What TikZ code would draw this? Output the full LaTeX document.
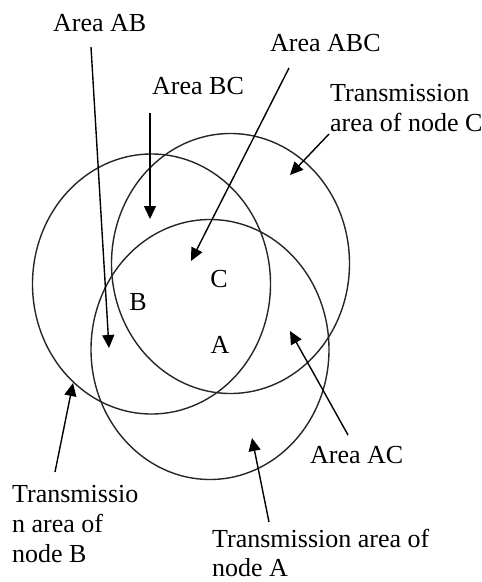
\documentclass[tikz,border=0pt]{standalone}
\usepackage{fontspec}
\setmainfont{Liberation Serif}
\usetikzlibrary{arrows.meta,shapes.geometric}
\begin{document}
\begin{tikzpicture}[x=1pt,y=-1pt,
  area/.style={draw=black!85, line width=1.4pt, ellipse, minimum width=238pt, minimum height=260pt, inner sep=0pt},
  lbl/.style={font=\fontsize{26}{30}\selectfont, inner sep=0pt},
  multi/.style={font=\fontsize{26}{30}\selectfont, inner sep=0pt, align=left, anchor=north west},
  letter/.style={font=\fontsize{26}{30}\selectfont, inner sep=0pt},
  ptr/.style={draw=black, line width=1.4pt, -{Triangle[length=13pt,width=12pt]}}]
\fill[white] (0,0) rectangle (482,582);
\useasboundingbox (0,0) rectangle (482,582);

% transmission areas
\node[area] (rangeB) at (151.5,284) {};
\node[area] (rangeC) at (230.5,263.5) {};
\node[area] (rangeA) at (210,349.5) {};

% node letters
\node[letter] (nC) at (219,279) {C};
\node[letter] (nB) at (138,302) {B};
\node[letter] (nA) at (220,345) {A};

% labels
\node[lbl, anchor=base west] (lAB) at (53,31) {Area AB};
\node[lbl, anchor=base west] (lBC) at (152,94) {Area BC};
\node[lbl, anchor=base west] (lABC) at (270,51) {Area ABC};
\node[multi] (lC) at (330,84) {Transmission\\area of node C};
\node[lbl, anchor=base west] (lAC) at (310,463) {Area AC};
\node[multi, font=\fontsize{26}{29}\selectfont] (lA) at (212,529) {Transmission area of\\node A};
\node[multi] (lB) at (12,485) {Transmissio\\n area of\\node B};

% arrow ends
\coordinate (sAB) at (91,47);   \coordinate (tAB) at (109,348);
\coordinate (sBC) at (150,113); \coordinate (tBC) at (150,219);
\coordinate (sABC) at (289,68); \coordinate (tABC) at (191,261);
\coordinate (sC) at (329,134);  \coordinate (tC) at (290,175);
\coordinate (sAC) at (348,435); \coordinate (tAC) at (290,331);
\coordinate (sA) at (269,522);  \coordinate (tA) at (252,438);
\coordinate (sB) at (55,472);   \coordinate (tB) at (73,383);

\draw[ptr] (sAB) -- (tAB);
\draw[ptr] (sBC) -- (tBC);
\draw[ptr] (sABC) -- (tABC);
\draw[ptr] (sC) -- (tC);
\draw[ptr] (sAC) -- (tAC);
\draw[ptr] (sA) -- (tA);
\draw[ptr] (sB) -- (tB);
\end{tikzpicture}
\end{document}
